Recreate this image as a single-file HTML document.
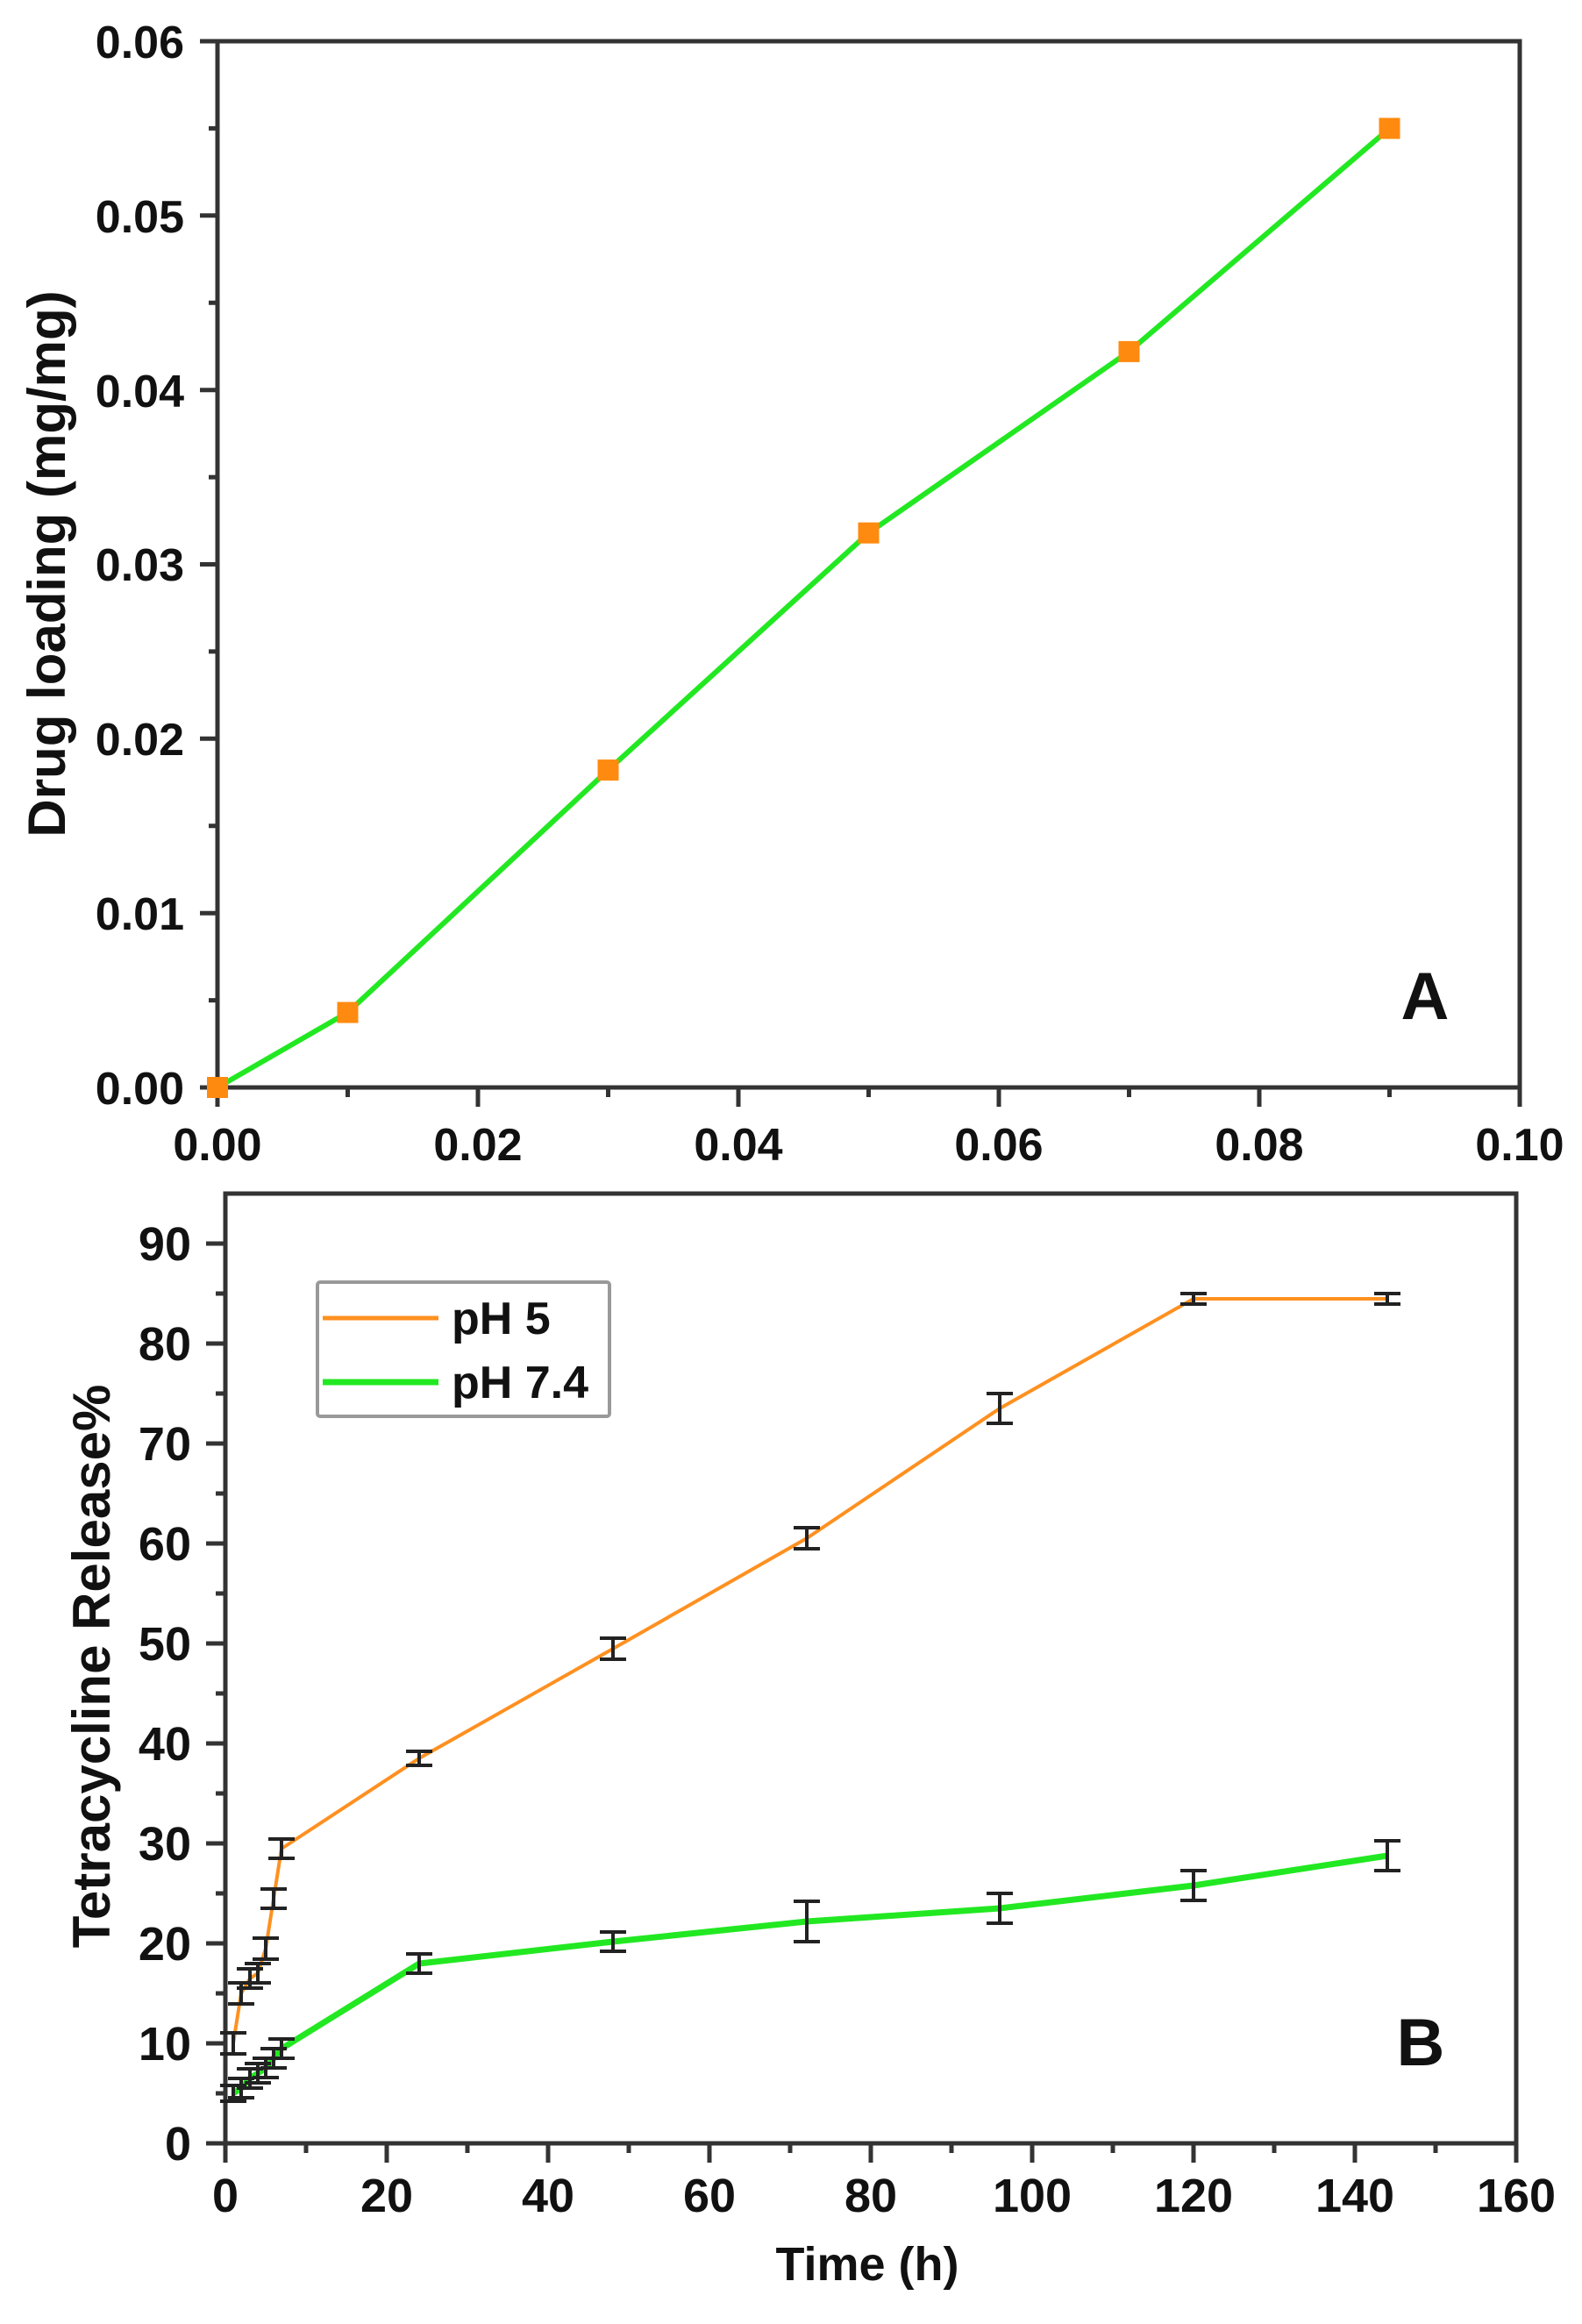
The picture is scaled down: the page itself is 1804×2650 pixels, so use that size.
<!DOCTYPE html>
<html><head><meta charset="utf-8"><style>
html,body{margin:0;padding:0;background:#fff;}
svg{display:block;}
text{font-family:"Liberation Sans",Arial,sans-serif;font-weight:bold;fill:#111;}
</style></head><body>
<svg width="1804" height="2650" viewBox="0 0 1804 2650" xmlns="http://www.w3.org/2000/svg">
<rect width="1804" height="2650" fill="#fff"/>
<g stroke="#333" stroke-width="5" fill="none">
<rect x="248" y="47" width="1485" height="1193"/>
<path d="M228 1240H248M228 1041.2H248M228 842.3H248M228 643.5H248M228 444.7H248M228 245.8H248M228 47H248"/>
<path d="M238 1140.6H248M238 941.8H248M238 742.9H248M238 544.1H248M238 345.3H248M238 146.4H248"/>
<path d="M248 1240V1262M545 1240V1262M842 1240V1262M1139 1240V1262M1436 1240V1262M1733 1240V1262"/>
<path d="M396.5 1240V1251M693.5 1240V1251M990.5 1240V1251M1287.5 1240V1251M1584.5 1240V1251"/>
</g>
<g font-size="52" text-anchor="end">
<text x="210" y="1259">0.00</text>
<text x="210" y="1060">0.01</text>
<text x="210" y="861">0.02</text>
<text x="210" y="662">0.03</text>
<text x="210" y="464">0.04</text>
<text x="210" y="265">0.05</text>
<text x="210" y="66">0.06</text>
</g>
<g font-size="52" text-anchor="middle">
<text x="248" y="1323">0.00</text>
<text x="545" y="1323">0.02</text>
<text x="842" y="1323">0.04</text>
<text x="1139" y="1323">0.06</text>
<text x="1436" y="1323">0.08</text>
<text x="1733" y="1323">0.10</text>
</g>
<text x="0" y="0" font-size="60" text-anchor="middle" transform="translate(74,643) rotate(-90)">Drug loading (mg/mg)</text>
<text x="1625" y="1162" font-size="76" text-anchor="middle">A</text>
<polyline fill="none" stroke="#22e822" stroke-width="6" points="248,1240 396.5,1154.5 693.5,878.1 990.5,607.7 1287.5,400.9 1584.5,146.4"/>
<g fill="#ff8a10">
<rect x="236" y="1228" width="24" height="24"/>
<rect x="384.5" y="1142.5" width="24" height="24"/>
<rect x="681.5" y="866.1" width="24" height="24"/>
<rect x="978.5" y="595.7" width="24" height="24"/>
<rect x="1275.5" y="388.9" width="24" height="24"/>
<rect x="1572.5" y="134.4" width="24" height="24"/>
</g>
<g stroke="#333" stroke-width="5" fill="none">
<rect x="257" y="1361" width="1472" height="1083"/>
<path d="M235 2444H257M235 2330H257M235 2216H257M235 2102H257M235 1988H257M235 1874H257M235 1760H257M235 1646H257M235 1532H257M235 1418H257"/>
<path d="M246 2387H257M246 2273H257M246 2159H257M246 2045H257M246 1931H257M246 1817H257M246 1703H257M246 1589H257M246 1475H257"/>
<path d="M257 2444V2466M441 2444V2466M625 2444V2466M809 2444V2466M993 2444V2466M1177 2444V2466M1361 2444V2466M1545 2444V2466M1729 2444V2466"/>
<path d="M349 2444V2455M533 2444V2455M717 2444V2455M901 2444V2455M1085 2444V2455M1269 2444V2455M1453 2444V2455M1637 2444V2455"/>
</g>
<g font-size="54" text-anchor="end">
<text x="218" y="2463">0</text>
<text x="218" y="2349">10</text>
<text x="218" y="2235">20</text>
<text x="218" y="2121">30</text>
<text x="218" y="2007">40</text>
<text x="218" y="1893">50</text>
<text x="218" y="1779">60</text>
<text x="218" y="1665">70</text>
<text x="218" y="1551">80</text>
<text x="218" y="1437">90</text>
</g>
<g font-size="54" text-anchor="middle">
<text x="257" y="2522">0</text>
<text x="441" y="2522">20</text>
<text x="625" y="2522">40</text>
<text x="809" y="2522">60</text>
<text x="993" y="2522">80</text>
<text x="1177" y="2522">100</text>
<text x="1361" y="2522">120</text>
<text x="1545" y="2522">140</text>
<text x="1729" y="2522">160</text>
</g>
<text x="989" y="2600" font-size="54" text-anchor="middle">Time (h)</text>
<text x="0" y="0" font-size="60" text-anchor="middle" transform="translate(125,1900) rotate(-90)">Tetracycline Release%</text>
<text x="1620" y="2355" font-size="76" text-anchor="middle">B</text>
<polyline fill="none" stroke="#ff9020" stroke-width="4" points="266,2330 275,2273 285,2256 294,2250 303,2222 312,2165 321,2108 478,2005 699,1880 920,1754 1140,1606 1361,1481 1582,1481"/>
<polyline fill="none" stroke="#22e822" stroke-width="7" points="266,2387 275,2381 285,2370 294,2364 303,2358 312,2347 321,2336 478,2239 699,2214 920,2191 1140,2176 1361,2150 1582,2116"/>
<g stroke="#222" stroke-width="4" fill="none">
<path d="M266 2318V2342M251 2318H281M251 2342H281"/>
<path d="M275 2261V2285M260 2261H290M260 2285H290"/>
<path d="M285 2245V2267M270 2245H300M270 2267H300"/>
<path d="M294 2239V2261M279 2239H309M279 2261H309"/>
<path d="M303 2210V2234M288 2210H318M288 2234H318"/>
<path d="M312 2154V2176M297 2154H327M297 2176H327"/>
<path d="M321 2097V2119M306 2097H336M306 2119H336"/>
<path d="M478 1997V2013M463 1997H493M463 2013H493"/>
<path d="M699 1868V1892M684 1868H714M684 1892H714"/>
<path d="M920 1742V1766M905 1742H935M905 1766H935"/>
<path d="M1140 1589V1623M1125 1589H1155M1125 1623H1155"/>
<path d="M1361 1475V1487M1346 1475H1376M1346 1487H1376"/>
<path d="M1582 1475V1487M1567 1475H1597M1567 1487H1597"/>
<path d="M266 2378V2396M251 2378H281M251 2396H281"/>
<path d="M275 2370V2392M260 2370H290M260 2392H290"/>
<path d="M285 2359V2381M270 2359H300M270 2381H300"/>
<path d="M294 2353V2375M279 2353H309M279 2375H309"/>
<path d="M303 2347V2369M288 2347H318M288 2369H318"/>
<path d="M312 2336V2358M297 2336H327M297 2358H327"/>
<path d="M321 2325V2347M306 2325H336M306 2347H336"/>
<path d="M478 2228V2250M463 2228H493M463 2250H493"/>
<path d="M699 2203V2225M684 2203H714M684 2225H714"/>
<path d="M920 2168V2214M905 2168H935M905 2214H935"/>
<path d="M1140 2159V2193M1125 2159H1155M1125 2193H1155"/>
<path d="M1361 2133V2167M1346 2133H1376M1346 2167H1376"/>
<path d="M1582 2099V2133M1567 2099H1597M1567 2133H1597"/>
</g>
<rect x="362" y="1462" width="333" height="153" rx="3" fill="#fff" stroke="#999" stroke-width="4"/>
<line x1="368" y1="1503" x2="500" y2="1503" stroke="#ff9020" stroke-width="5"/>
<line x1="368" y1="1576" x2="500" y2="1576" stroke="#22e822" stroke-width="7"/>
<text x="515" y="1521" font-size="52">pH 5</text>
<text x="515" y="1594" font-size="52">pH 7.4</text>
</svg>
</body></html>
